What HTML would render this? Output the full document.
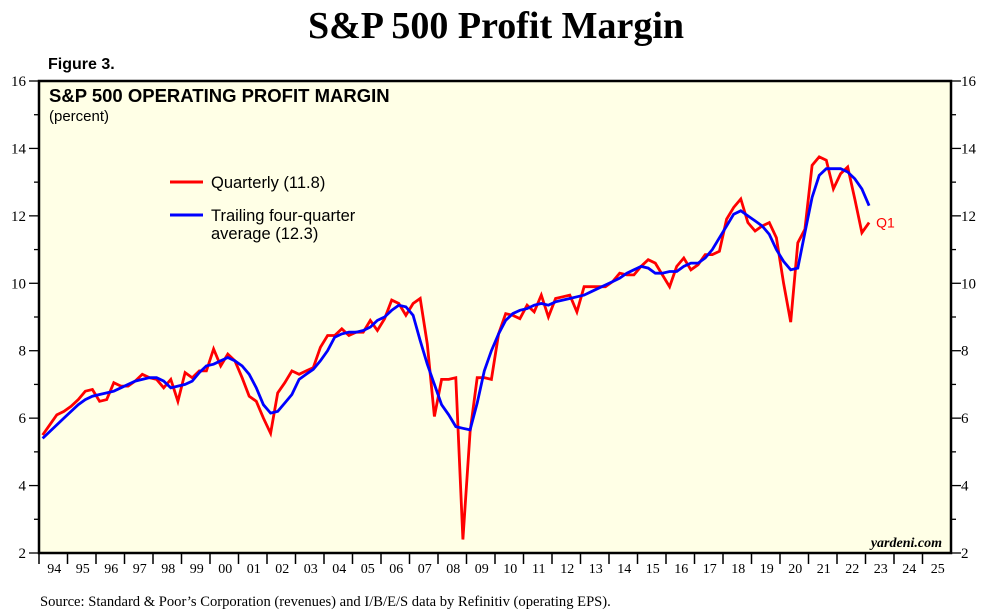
<!DOCTYPE html>
<html><head><meta charset="utf-8"><style>
body{margin:0;background:#fff;}
svg{display:block;}
</style></head><body>
<svg id="chart" width="984" height="616" xmlns="http://www.w3.org/2000/svg">
<text x="496" y="38" text-anchor="middle" font-family="Liberation Serif, serif" font-weight="bold" font-size="38">S&amp;P 500 Profit Margin</text>
<text x="48" y="69" font-family="Liberation Sans, sans-serif" font-weight="bold" font-size="16">Figure 3.</text>
<rect x="39" y="81" width="912" height="472" fill="#FFFFE6"/>
<text x="49" y="102" font-family="Liberation Sans, sans-serif" font-weight="bold" font-size="18.5">S&amp;P 500 OPERATING PROFIT MARGIN</text>
<text x="49" y="121" font-family="Liberation Sans, sans-serif" font-size="15">(percent)</text>
<g id="axes"></g>
<g id="series"></g>
<line x1="170" y1="182" x2="203" y2="182" stroke="#f00" stroke-width="3"/>
<text x="211" y="188" font-family="Liberation Sans, sans-serif" font-size="16.5">Quarterly (11.8)</text>
<line x1="170" y1="215" x2="203" y2="215" stroke="#00f" stroke-width="3"/>
<text x="211" y="221" font-family="Liberation Sans, sans-serif" font-size="16.5">Trailing four-quarter</text>
<text x="211" y="239" font-family="Liberation Sans, sans-serif" font-size="16.5">average (12.3)</text>
<text x="942" y="547" text-anchor="end" font-family="Liberation Serif, serif" font-weight="bold" font-style="italic" font-size="14">yardeni.com</text>
<text x="40" y="606" font-family="Liberation Serif, serif" font-size="14.6">Source: Standard &amp; Poor’s Corporation (revenues) and I/B/E/S data by Refinitiv (operating EPS).</text>
<rect x="39" y="81" width="912" height="472" fill="none" stroke="#000" stroke-width="2.5"/>
</svg>
<script>
const yearLabels=["94","95","96","97","98","99","00","01","02","03","04","05","06","07","08","09","10","11","12","13","14","15","16","17","18","19","20","21","22","23","24","25"];
const yTicks=[2,4,6,8,10,12,14,16];
const quarterly=[5.5,5.8,6.1,6.2, 6.35,6.55,6.8,6.85, 6.5,6.55,7.05,6.95, 6.95,7.1,7.3,7.2, 7.15,6.9,7.15,6.5, 7.35,7.2,7.4,7.4, 8.05,7.55,7.9,7.7, 7.2,6.65,6.5,6.0, 5.55,6.75,7.05,7.4, 7.3,7.4,7.5,8.1, 8.45,8.45,8.65,8.45, 8.55,8.55,8.9,8.6, 8.95,9.5,9.4,9.05, 9.4,9.55,8.2,6.05, 7.15,7.15,7.2,2.4, 5.6,7.2,7.2,7.15, 8.5,9.1,9.05,8.95, 9.35,9.15,9.65,9.0, 9.55,9.6,9.65,9.15, 9.9,9.9,9.9,9.9, 10.05,10.3,10.25,10.25, 10.5,10.7,10.6,10.25, 9.9,10.5,10.75,10.4, 10.55,10.85,10.85,10.95, 11.9,12.25,12.5,11.8, 11.55,11.7,11.8,11.35, 10.0,8.85,11.2,11.6, 13.5,13.75,13.65,12.8, 13.25,13.45,12.5,11.5, 11.8];
const trailing=[5.4,5.6,5.8,6.0, 6.2,6.4,6.55,6.65, 6.7,6.75,6.8,6.9, 7.0,7.1,7.15,7.2, 7.2,7.1,6.9,6.95, 7.0,7.1,7.35,7.55, 7.6,7.7,7.8,7.7, 7.55,7.3,6.9,6.4, 6.15,6.2,6.45,6.7, 7.15,7.3,7.45,7.7, 8.0,8.4,8.5,8.55, 8.55,8.6,8.7,8.9, 9.0,9.2,9.35,9.3, 9.05,8.3,7.6,7.0, 6.4,6.1,5.75,5.7, 5.65,6.45,7.4,8.0, 8.5,8.9,9.1,9.2, 9.25,9.35,9.4,9.35, 9.45,9.5,9.55,9.6, 9.65,9.75,9.85,9.95, 10.05,10.15,10.3,10.4, 10.5,10.45,10.3,10.3, 10.35,10.35,10.5,10.6, 10.6,10.75,11.0,11.35, 11.7,12.05,12.15,12.0, 11.85,11.7,11.45,11.0, 10.65,10.4,10.45,11.5, 12.55,13.2,13.4,13.4, 13.4,13.3,13.1,12.8, 12.3];
const NS="http://www.w3.org/2000/svg";
const L=39,R=951,T=81,B=553,Y0=2,Y1=16;
const yw=(R-L)/yearLabels.length;
function yS(v){return B-(v-Y0)/(Y1-Y0)*(B-T);}
function xQ(i){return L+(i+0.5)*yw/4;}
function mk(tag,attrs,parent){const e=document.createElementNS(NS,tag);for(const k in attrs)e.setAttribute(k,attrs[k]);parent.appendChild(e);return e;}
const ax=document.getElementById('axes');
for(let v=Y0;v<=Y1;v++){
  const y=yS(v),major=v%2===0,len=major?10:5;
  let t=mk('line',{x1:L-len,y1:y,x2:L,y2:y,stroke:'#000','stroke-width':1.3},ax);
  
  
  t=mk('line',{x1:R,y1:y,x2:R+len,y2:y,stroke:'#000','stroke-width':1.3},ax);
  
  
}
yTicks.forEach(v=>{
  let t=mk('text',{x:26,y:yS(v)+5,'text-anchor':'end','font-family':'Liberation Serif, serif','font-size':15},ax);
  t.textContent=v;
  
  
  t=mk('text',{x:961,y:yS(v)+5,'font-family':'Liberation Serif, serif','font-size':15},ax);
  t.textContent=v;
  
  
});
yearLabels.forEach((lab,i)=>{
  const x=L+i*yw;
  let t=mk('line',{x1:x,y1:B,x2:x,y2:B+11,stroke:'#000','stroke-width':1.5},ax);
  
  
  t=mk('text',{x:x+yw/2+1,y:B+20,'text-anchor':'middle','font-family':'Liberation Serif, serif','font-size':14},ax);
  t.textContent=lab;
  
  
});
const sg=document.getElementById('series');
function pts(arr){return arr.map((v,i)=>xQ(i).toFixed(1)+','+yS(v).toFixed(1)).join(' ');}
let p=mk('polyline',{points:pts(quarterly),fill:'none',stroke:'#f00','stroke-width':2.8,'stroke-linejoin':'miter'},sg);


p=mk('polyline',{points:pts(trailing),fill:'none',stroke:'#00f','stroke-width':2.8},sg);


const last=quarterly.length-1;
let q=mk('text',{x:xQ(last)+7,y:yS(quarterly[last])+5,fill:'#f00','font-family':'Liberation Sans, sans-serif','font-size':14},sg);
q.textContent='Q1';


</script>
</body></html>
